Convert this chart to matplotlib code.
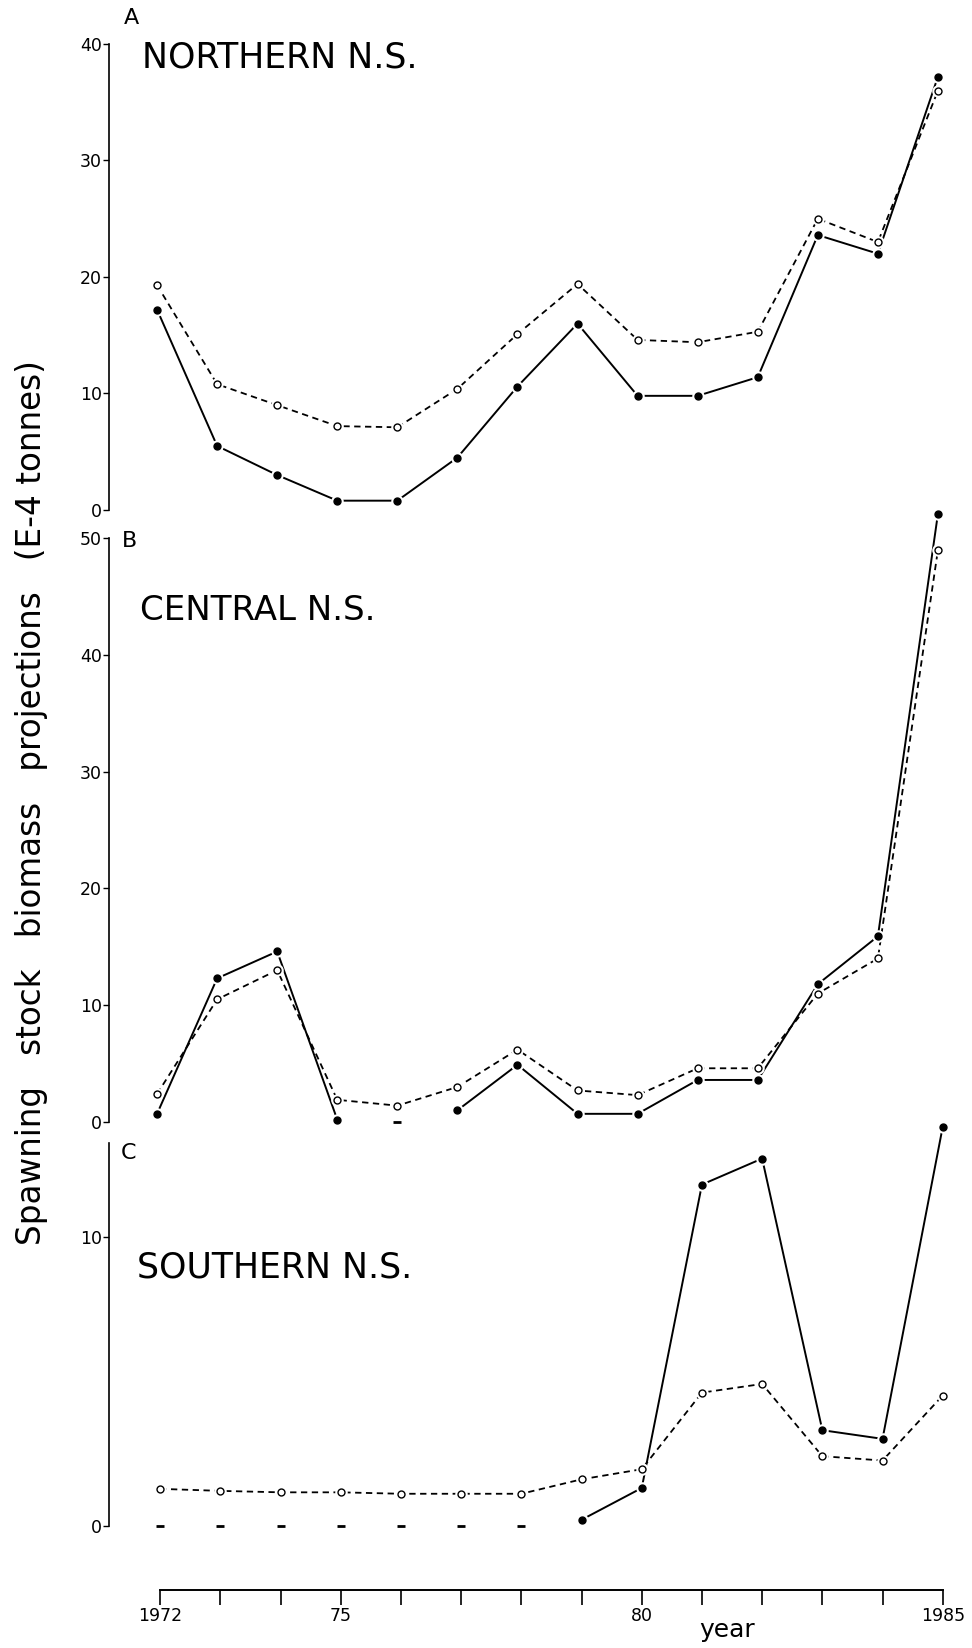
import matplotlib
matplotlib.use("Agg")
import matplotlib.pyplot as plt
import numpy as np

years = [1972, 1973, 1974, 1975, 1976, 1977, 1978, 1979, 1980, 1981, 1982, 1983, 1984, 1985]
year_labels = ["1972", "", "", "75", "", "", "", "", "80", "", "", "", "", "1985"]

# A - northern North Sea
north_solid = [17.2, 5.5, 3.0, 0.8, 0.8, 4.5, 10.6, 16.0, 9.8, 9.8, 11.4, 23.6, 22.0, 37.2]
north_open = [19.3, 10.8, 9.0, 7.2, 7.1, 10.4, 15.1, 19.4, 14.6, 14.4, 15.3, 25.0, 23.0, 36.0]
north_zero = []

# B - central North Sea (1976 solid plotted as zero dash)
central_solid = [0.7, 12.3, 14.6, 0.2, np.nan, 1.0, 4.9, 0.7, 0.7, 3.6, 3.6, 11.8, 15.9, 52.1]
central_open = [2.4, 10.5, 13.0, 1.9, 1.4, 3.0, 6.2, 2.7, 2.3, 4.6, 4.6, 11.0, 14.0, 49.0]
central_zero = [1976]

# C - southern North Sea
south_solid = [np.nan, np.nan, np.nan, np.nan, np.nan, np.nan, np.nan, 0.2, 1.3, 11.8, 12.7, 3.3, 3.0, 13.8]
south_open = [1.27, 1.2, 1.15, 1.15, 1.1, 1.1, 1.1, 1.6, 1.95, 4.6, 4.9, 2.4, 2.25, 4.5]
south_zero = [1972, 1973, 1974, 1975, 1976, 1977, 1978]

narrow = ["Liberation Sans Narrow", "DejaVu Sans"]

W, H = 972, 1648
fig = plt.figure(figsize=(W / 100, H / 100), dpi=100)


def box(left, top, right, bottom):
    return [left / W, 1 - bottom / H, (right - left) / W, (bottom - top) / H]


def draw(ax, solid, open_, zeros, ylim, yticks, top, xlim=(1971.2, 1985.4)):
    ax.set_facecolor("none")
    ax.plot(years, open_, color="k", lw=1.3, ls=(0, (3.5, 2.5)), zorder=2, clip_on=False)
    ax.plot(years, solid, color="k", lw=1.4, zorder=2, clip_on=False)
    for vals in (open_, solid):
        ax.plot(years, vals, ls="none", marker="o", ms=9, mfc="white", mec="none",
                zorder=3, clip_on=False)
    ax.plot(years, open_, ls="none", marker="o", ms=5, mfc="white", mec="k", mew=1,
            zorder=4, clip_on=False)
    ax.plot(years, solid, ls="none", marker="o", ms=5, mfc="k", mec="k", zorder=4, clip_on=False)
    if zeros:
        ax.plot(zeros, [0] * len(zeros), ls="none", marker="_", ms=6, mew=2, color="k",
                zorder=4, clip_on=False)
    ax.set_xlim(*xlim)
    ax.set_ylim(*ylim)
    ax.set_yticks(yticks)
    ax.set_yticklabels([str(t) for t in yticks], family=narrow, fontsize=12.5)
    for s in ("top", "right", "bottom"):
        ax.spines[s].set_visible(False)
    ax.spines["left"].set_bounds(0, top)
    ax.spines["left"].set_linewidth(1.2)
    ax.tick_params(axis="y", direction="out", length=4, width=1, pad=1)
    ax.set_xticks([])


ax_a = fig.add_axes(box(109, 44, 962, 510))
draw(ax_a, north_solid, north_open, north_zero, (0, 40), [0, 10, 20, 30, 40], 40)

ax_b = fig.add_axes(box(109, 503, 962, 1122))
draw(ax_b, central_solid, central_open, central_zero, (0, 53), [0, 10, 20, 30, 40, 50], 50)

ax_c = fig.add_axes(box(109, 1121, 962, 1540))
draw(ax_c, south_solid, south_open, south_zero, (-0.5, 14), [0, 10], 13.25,
     xlim=(1971.15, 1985.32))

# bottom year axis sits below panel C
ax_c.spines["bottom"].set_visible(True)
ax_c.spines["bottom"].set_position(("outward", 36))
ax_c.spines["bottom"].set_bounds(1972, 1985)
ax_c.spines["bottom"].set_linewidth(1.4)
ax_c.set_xticks(years)
ax_c.set_xticklabels(year_labels, family=narrow, fontsize=12.5)
ax_c.tick_params(axis="x", direction="out", length=11, width=1.2, pad=1)

fig.text(131 / W, 1 - 18 / H, "A", ha="center", va="center", fontsize=16)
fig.text(142 / W, 1 - 58 / H, "NORTHERN N.S.", ha="left", va="center", fontsize=25)
fig.text(129 / W, 1 - 541 / H, "B", ha="center", va="center", fontsize=16)
fig.text(140 / W, 1 - 610 / H, "CENTRAL N.S.", ha="left", va="center", fontsize=24.5, family=narrow)
fig.text(128 / W, 1 - 1153 / H, "C", ha="center", va="center", fontsize=16)
fig.text(137 / W, 1 - 1267 / H, "SOUTHERN N.S.", ha="left", va="center", fontsize=25, family=narrow)
fig.text(727 / W, 1 - 1630 / H, "year", ha="center", va="center", fontsize=18)
fig.text(32 / W, 1 - 803 / H, "Spawning   stock   biomass   projections   (E-4 tonnes)",
         rotation=90, ha="center", va="center", fontsize=23.5)

fig.savefig("out.png", dpi=100)
